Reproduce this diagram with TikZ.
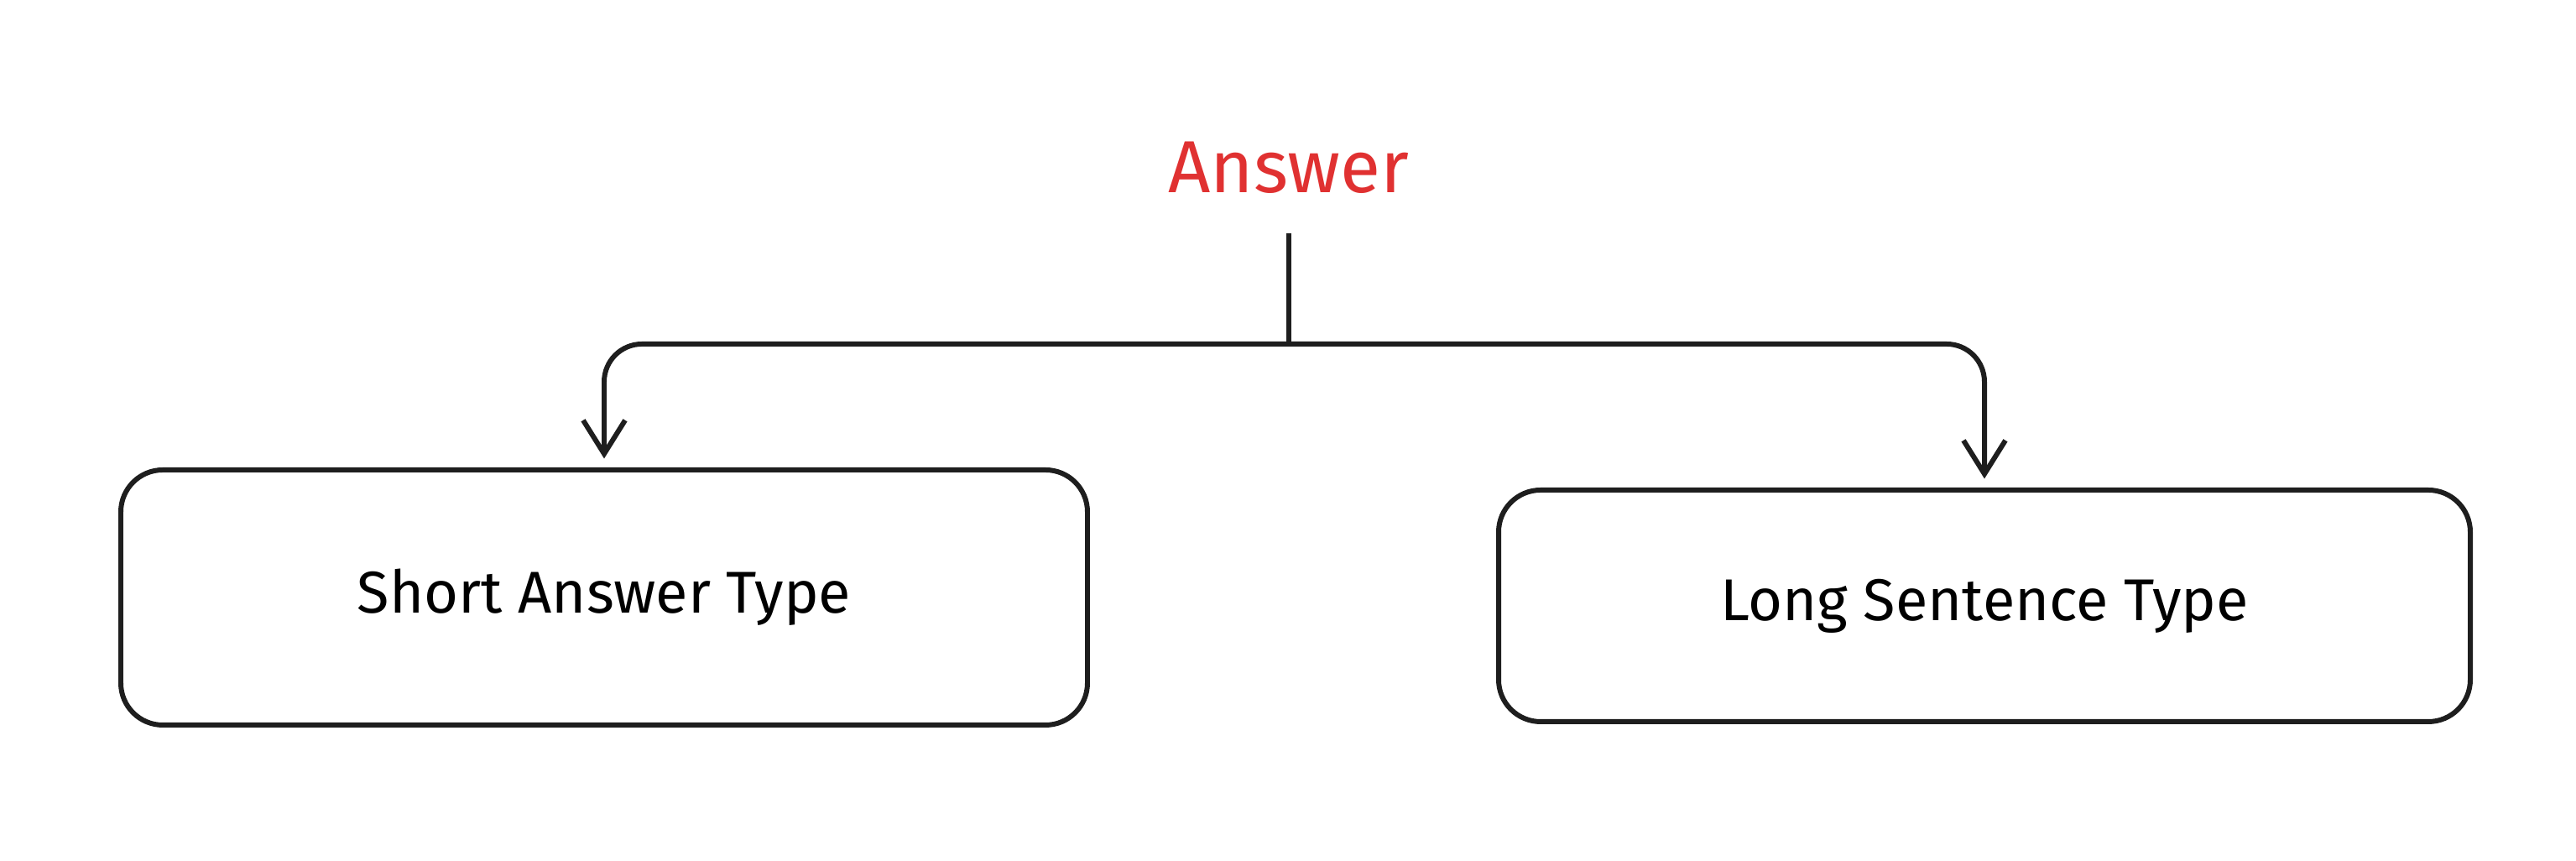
\documentclass[tikz,border=0pt]{standalone}
\usepackage{fontspec}
\setmainfont{Fira Sans}
\usetikzlibrary{positioning,arrows.meta}
\definecolor{answerred}{HTML}{E03131}
\definecolor{inkline}{HTML}{1E1E1E}
\begin{document}
\begin{tikzpicture}[
      arrowstyle/.style={-{Straight Barb[length=4mm, width=5mm]}, line width=1.7pt, draw=inkline, rounded corners=0.45cm, shorten >=3pt},
      boxnode/.style={draw=inkline, line width=1.7pt, rectangle, rounded corners=0.5cm, text centered, font=\fontsize{20}{24}\selectfont}]
      \useasboundingbox (0,0) rectangle (30.70,10.26);

      % Title and the two kinds
      \node (Answer) [text=answerred, font=\fontsize{25}{30}\selectfont] at (15.36,8.26) {Answer};
      \node (Short) [boxnode, minimum width=11.52cm, minimum height=3.04cm] at (7.20,3.14) {Short Answer Type};
      \node (Long)  [boxnode, minimum width=11.58cm, minimum height=2.76cm] at (23.65,3.04) {Long Sentence Type};

      % Branching arrow
      \coordinate (split) at (15.36,6.16);
      \draw [line width=1.7pt, draw=inkline] (Answer.south) ++(0,-0.35) -- (split);
      \draw [arrowstyle] (split) -| (Short.north);
      \draw [arrowstyle] (split) -| (Long.north);
\end{tikzpicture}
\end{document}
